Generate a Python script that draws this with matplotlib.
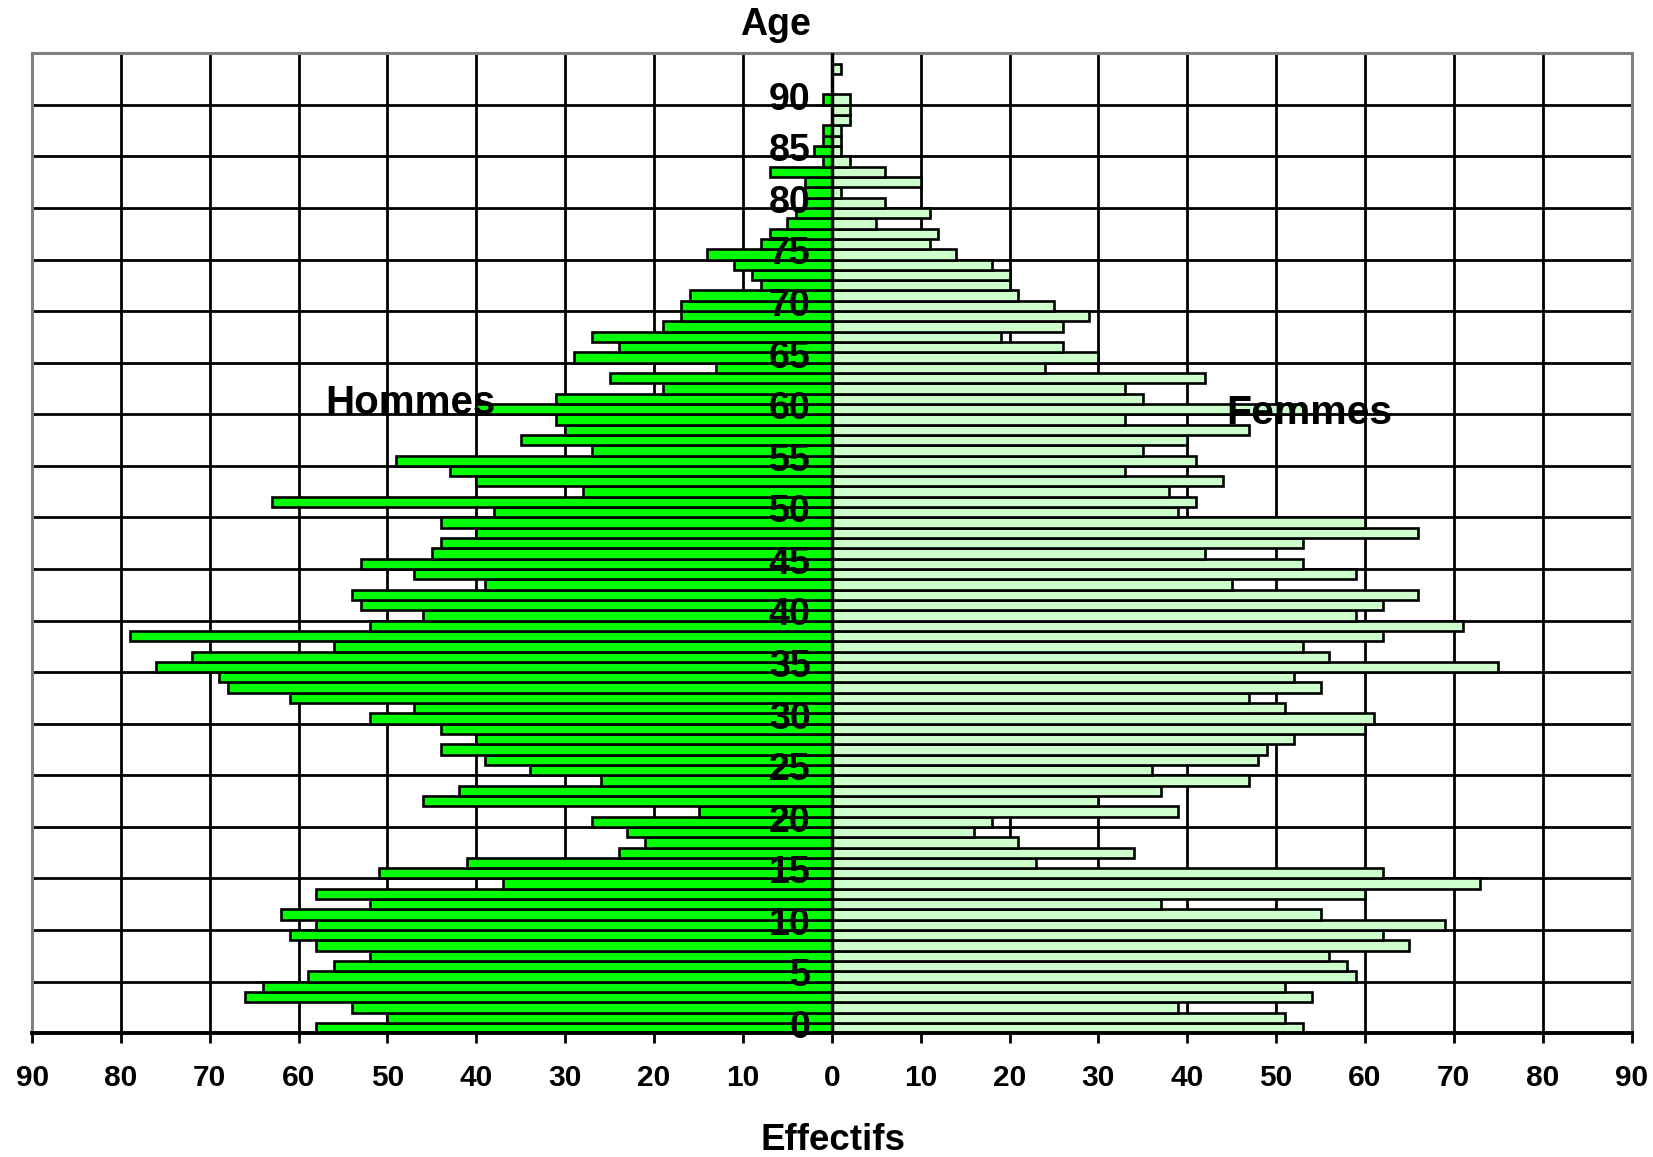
import numpy as np
import matplotlib
matplotlib.use('Agg')
import matplotlib.pyplot as plt

plt.rcParams['font.family'] = ['Liberation Sans', 'DejaVu Sans']
plt.rcParams['font.weight'] = 'bold'

ages = np.arange(0, 95)

hommes = [58, 50, 54, 66, 64, 59, 56, 52, 58, 61,
          58, 62, 52, 58, 37, 51, 41, 24, 21, 23,
          27, 15, 46, 42, 26, 34, 39, 44, 40, 44,
          52, 47, 61, 68, 69, 76, 72, 56, 79, 52,
          46, 53, 54, 39, 47, 53, 45, 44, 40, 44,
          38, 63, 28, 40, 43, 49, 27, 35, 30, 31,
          40, 31, 19, 25, 13, 29, 24, 27, 19, 17,
          17, 16, 8, 9, 11, 14, 8, 7, 5, 4,
          3, 3, 3, 7, 1, 2, 1, 1, 0, 0,
          1, 0, 0, 0, 0]

femmes = [53, 51, 39, 54, 51, 59, 58, 56, 65, 62,
          69, 55, 37, 60, 73, 62, 23, 34, 21, 16,
          18, 39, 30, 37, 47, 36, 48, 49, 52, 60,
          61, 51, 47, 55, 52, 75, 56, 53, 62, 71,
          59, 62, 66, 45, 59, 53, 42, 53, 66, 60,
          39, 41, 38, 44, 33, 41, 35, 40, 47, 33,
          53, 35, 33, 42, 24, 30, 26, 19, 26, 29,
          25, 21, 20, 20, 18, 14, 11, 12, 5, 11,
          6, 1, 10, 6, 2, 1, 1, 1, 2, 2,
          2, 0, 0, 1, 0]

x_ticks = np.arange(-90, 91, 10)
age_labels = np.arange(0, 91, 5)

fig = plt.figure(figsize=(16.53, 11.57), dpi=100)
ax = fig.add_axes([0.0194, 0.107, 0.9676, 0.847])

# grille
for x in x_ticks:
    ax.axvline(x, color='black', lw=2.0, zorder=1)
for y in np.arange(4.5, 94, 5):
    ax.axhline(y, color='black', lw=2.0, zorder=1)

ax.barh(ages, [-h for h in hommes], height=1.0, color='#00FF00',
        edgecolor='black', linewidth=1.9, zorder=2)
ax.barh(ages, femmes, height=1.0, color='#CCFFCC',
        edgecolor='black', linewidth=1.9, zorder=2)
ax.axvline(0, color='black', lw=2.5, zorder=3)

ax.set_xlim(-90, 90)
ax.set_ylim(-0.5, 94.5)
ax.set_xticks(x_ticks)
ax.set_xticklabels([str(abs(v)) for v in x_ticks], fontsize=21.5, fontweight='bold')
ax.set_yticks([])
ax.tick_params(axis='x', length=7, width=2, pad=15)

for a in age_labels:
    ax.text(-2.4, a, str(a), ha='right', va='center', fontsize=27,
            fontweight='bold', zorder=5)

for side in ['top', 'left', 'right']:
    ax.spines[side].set_color('#808080')
    ax.spines[side].set_linewidth(2.2)
ax.spines['bottom'].set_color('black')
ax.spines['bottom'].set_linewidth(2.8)

ax.text(-47.4, 60.6, 'Hommes', ha='center', va='center', fontsize=29,
        fontweight='bold', zorder=6)
ax.text(53.7, 59.6, 'Femmes', ha='center', va='center', fontsize=29.5,
        fontweight='bold', zorder=6)

fig.text(0.469, 0.978, 'Age', ha='center', va='center', fontsize=27, fontweight='bold')
fig.text(0.504, 0.0145, 'Effectifs', ha='center', va='center', fontsize=26.5, fontweight='bold')

fig.savefig('out.png', dpi=100)
